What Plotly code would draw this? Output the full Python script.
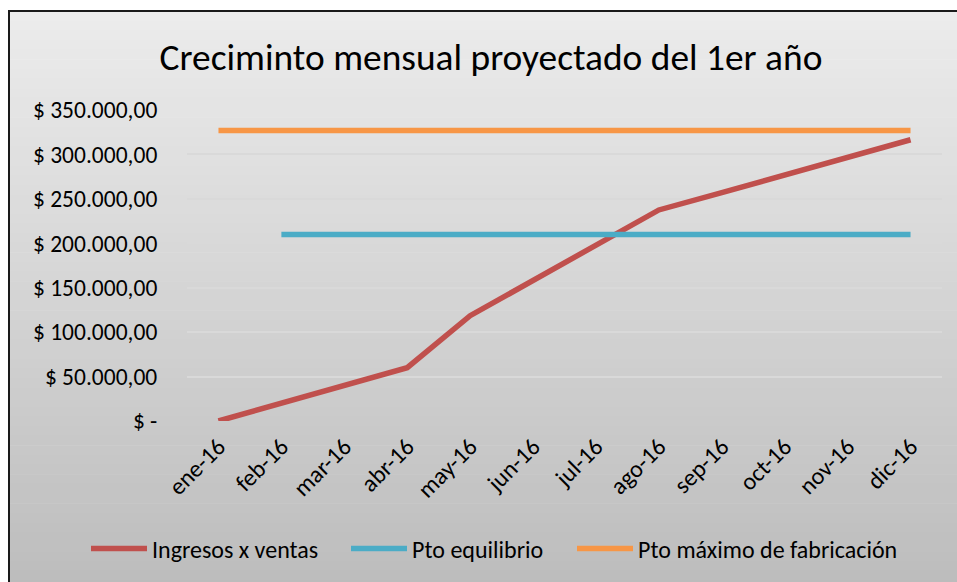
import plotly.graph_objects as go

title_text = "Creciminto mensual proyectado del 1er año"
months = ["ene-16", "feb-16", "mar-16", "abr-16", "may-16", "jun-16",
          "jul-16", "ago-16", "sep-16", "oct-16", "nov-16", "dic-16"]
ingresos = [0, 20000, 40000, 60000, 118500, 158000, 198000, 237500,
            257000, 277000, 297000, 316500]
equilibrio = [None, 210000, 210000, 210000, 210000, 210000, 210000,
              210000, 210000, 210000, 210000, 210000]
maximo = [327000] * 12
ytick_vals = [0, 50000, 100000, 150000, 200000, 250000, 300000, 350000]
ytick_text = ["$ -", "$ 50.000,00", "$ 100.000,00", "$ 150.000,00",
              "$ 200.000,00", "$ 250.000,00", "$ 300.000,00", "$ 350.000,00"]

W, H = 957, 582
PL, PR, PT, PB = 187, 942, 110, 421
FONT = "Carlito, Calibri, Lato, sans-serif"


def px_x(x):
    return (x - PL) / (PR - PL)


def px_y(y):
    return (PB - y) / (PB - PT)


fig = go.Figure()
fig.add_trace(go.Scatter(x=months, y=ingresos, mode="lines", name="Ingresos x ventas",
                         line=dict(color="#C0504D", width=5.5), legend="legend"))
fig.add_trace(go.Scatter(x=months, y=equilibrio, mode="lines", name="Pto equilibrio",
                         line=dict(color="#4BACC6", width=5.5), legend="legend2"))
fig.add_trace(go.Scatter(x=months, y=maximo, mode="lines", name="Pto máximo de fabricación",
                         line=dict(color="#F79646", width=5.5), legend="legend3"))

# gradient background of the chart area
shapes = []
top, bottom = 11, 590
n = 60
c0, c1 = 0xEC, 0xBC
for i in range(n):
    y0 = top + (bottom - top) * i / n
    y1 = top + (bottom - top) * (i + 1) / n + 0.6
    t = (i + 0.5) / n
    c = round(c0 + (c1 - c0) * t)
    shapes.append(dict(type="rect", xref="paper", yref="paper", layer="below",
                       x0=px_x(9), x1=px_x(970), y0=px_y(y1), y1=px_y(y0),
                       fillcolor=f"rgb({c},{c},{c})", line=dict(width=0)))
# border
shapes.append(dict(type="rect", xref="paper", yref="paper", layer="above",
                   x0=px_x(9), x1=px_x(975), y0=px_y(600), y1=px_y(11),
                   fillcolor="rgba(0,0,0,0)", line=dict(color="#1a1a1a", width=2)))


def legend_at(left_px):
    return dict(orientation="h", xref="container", yref="container",
                x=left_px / W, xanchor="left", y=1 - 549 / H, yanchor="middle",
                bgcolor="rgba(0,0,0,0)", font=dict(size=24, family=FONT),
                itemwidth=56, borderwidth=0)


fig.update_layout(
    width=W, height=H,
    margin=dict(l=PL, r=W - PR, t=PT, b=H - PB, autoexpand=False),
    paper_bgcolor="white",
    plot_bgcolor="rgba(0,0,0,0)",
    font=dict(family=FONT, color="#000000", size=24),
    title=dict(text=title_text,
               x=491 / W, xanchor="center", xref="container",
               y=1 - 57 / H, yanchor="middle", yref="container",
               font=dict(size=37.4, family=FONT, color="#000000")),
    shapes=shapes,
    showlegend=True,
    legend=legend_at(92 - 6),
    legend2=legend_at(352 - 6),
    legend3=legend_at(578 - 6),
)
fig.update_xaxes(type="category", range=[-0.5, 11.5], showgrid=False, zeroline=False,
                 showline=False, tickangle=-45, ticks="outside", ticklen=1,
                 tickcolor="rgba(0,0,0,0)", tickfont=dict(size=24, family=FONT))
fig.update_yaxes(range=[0, 350000], tickvals=ytick_vals, ticktext=ytick_text,
                 showgrid=True, gridcolor="#d9d9d9", gridwidth=2, zeroline=False,
                 showline=False, ticks="outside", ticklen=24,
                 tickcolor="rgba(0,0,0,0)", tickfont=dict(size=23.5, family=FONT))

fig.write_html("out.html", config={"displayModeBar": False},
               post_script="document.body.style.margin='0';"
                           "document.body.style.overflow='hidden';")
